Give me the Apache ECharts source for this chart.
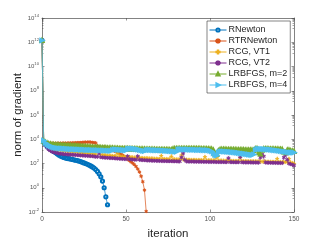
<!DOCTYPE html>
<html>
<head>
<meta charset="utf-8">
<script src="https://cdn.jsdelivr.net/npm/echarts@6/dist/echarts.min.js"></script>
<style>
html,body{margin:0;padding:0;background:#fff;}
#chart{width:327px;height:245px;}
</style>
</head>
<body>
<div id="chart"></div>
<script>
// Values are log10(norm of gradient), indexed by iteration 0,1,2,...
var seriesNames = ['RNewton', 'RTRNewton', 'RCG, VT1', 'RCG, VT2', 'LRBFGS, m=2', 'LRBFGS, m=4'];
var xTicks = [0, 50, 100, 150];
var yTickExps = [-2, 0, 2, 4, 6, 8, 10, 12, 14];

var rnewtonExp = [12.15,
  3.75, 3.6, 3.45, 3.3, 3.2, 3.1, 3.0, 2.9, 2.8, 2.7,
  2.62, 2.56, 2.5, 2.46, 2.42, 2.4, 2.37, 2.34, 2.3, 2.27,
  2.24, 2.2, 2.16, 2.1, 2.05, 2.0, 1.94, 1.87, 1.8, 1.72,
  1.62, 1.5, 1.35, 1.15, 0.9, 0.55, 0.0, -0.75, -1.4];

var rtrnewtonExp = [12.15,
  3.8, 3.72, 3.7, 3.68, 3.67, 3.67, 3.66, 3.66, 3.66, 3.67,
  3.67, 3.67, 3.68, 3.68, 3.68, 3.69, 3.69, 3.7, 3.7, 3.71,
  3.72, 3.72, 3.73, 3.74, 3.75, 3.76, 3.76, 3.77, 3.76, 3.74,
  3.72, 3.7, 3.45, 3.3, 3.28, 3.3, 3.38, 3.25, 3.2, 3.15,
  3.1, 3.07, 3.03, 3.0, 2.93, 2.85, 2.77, 2.68, 2.57, 2.46,
  2.35, 2.24, 2.13, 2.03, 1.9, 1.75, 1.55, 1.3, 0.95, 0.5,
  -0.2, -1.95];

var rcgVT1Exp = [12.15,
  3.82, 3.62, 3.48, 3.38, 3.3, 3.24, 3.19, 3.15, 3.12, 3.09,
  3.07, 3.05, 3.03, 3.01, 3.0, 2.98, 2.97, 2.95, 2.94, 2.92,
  2.91, 2.9, 2.88, 2.87, 2.86, 2.85, 2.84, 2.82, 2.81, 2.8,
  2.78, 2.77, 3.05, 2.9, 2.74, 2.72, 2.7, 2.69, 2.67, 2.66,
  2.65, 2.63, 2.62, 2.61, 2.85, 2.6, 2.58, 2.57, 2.56, 2.55,
  2.54, 2.53, 2.52, 2.51, 2.5, 2.49, 2.48, 2.47, 2.46, 2.45,
  2.44, 2.44, 2.43, 2.42, 2.42, 2.41, 2.4, 2.4, 2.39, 2.39,
  2.65, 2.38, 2.37, 2.37, 2.36, 2.36, 2.6, 2.35, 2.35, 2.34,
  2.34, 2.33, 2.7, 2.33, 2.32, 2.32, 2.31, 2.31, 2.3, 2.3,
  2.3, 2.29, 2.29, 2.28, 2.28, 2.28, 2.55, 2.27, 2.27, 2.26,
  2.26, 2.26, 2.25, 2.5, 2.25, 2.24, 2.24, 2.24, 2.23, 2.23,
  2.23, 2.22, 2.22, 2.22, 2.21, 2.21, 2.21, 2.5, 2.2, 2.2,
  2.2, 2.19, 2.19, 2.19, 2.18, 2.18, 2.18, 2.17, 2.17, 2.17,
  2.16, 2.16, 2.16, 2.15, 2.15, 2.15, 2.14, 2.14, 2.14, 2.4,
  2.13, 2.13, 2.12, 2.12, 2.12, 2.11, 2.4, 2.1, 2.05, 2.0];

var rcgVT2Exp = [12.15,
  3.8, 3.5, 3.3, 3.15, 3.05, 2.98, 2.93, 2.89, 2.86, 2.83,
  2.81, 2.79, 2.77, 2.76, 2.75, 2.74, 2.73, 2.72, 2.71, 2.7,
  2.69, 2.68, 2.67, 2.66, 2.65, 2.64, 2.63, 2.62, 2.61, 2.6,
  2.58, 2.56, 2.55, 2.85, 2.52, 2.5, 2.49, 2.48, 2.47, 2.46,
  2.45, 2.44, 2.43, 2.42, 2.41, 2.4, 2.39, 2.38, 2.37, 2.36,
  2.6, 2.35, 2.34, 2.33, 2.32, 2.31, 2.6, 2.3, 2.29, 2.28,
  2.27, 2.26, 2.25, 2.25, 2.24, 2.23, 2.23, 2.22, 2.22, 2.21,
  2.21, 2.2, 2.2, 2.2, 2.19, 2.19, 2.19, 2.18, 2.18, 2.18,
  2.17, 2.17, 2.5, 2.85, 2.3, 2.17, 2.16, 2.16, 2.16, 2.16,
  2.15, 2.15, 2.15, 2.15, 2.14, 2.14, 2.14, 2.14, 2.13, 2.13,
  2.13, 2.13, 2.13, 2.12, 2.12, 2.12, 2.12, 2.12, 2.11, 2.11,
  2.45, 2.11, 2.11, 2.1, 2.1, 2.1, 2.1, 2.55, 2.1, 2.09,
  2.09, 2.09, 2.09, 2.09, 2.08, 2.08, 2.08, 2.08, 2.07, 2.5,
  2.75, 2.6, 2.08, 2.07, 2.07, 2.06, 2.06, 2.06, 2.05, 2.05,
  2.05, 2.04, 2.04, 2.5, 2.75, 2.3, 2.0, 1.95, 1.9, 1.85];

var lrbfgs2Exp = [12.15,
  3.85, 3.75, 3.68, 3.63, 3.6, 3.57, 3.55, 3.54, 3.53, 3.52,
  3.51, 3.5, 3.5, 3.49, 3.48, 3.48, 3.47, 3.46, 3.45, 3.45,
  3.44, 3.43, 3.42, 3.41, 3.4, 3.39, 3.38, 3.37, 3.36, 3.35,
  3.34, 3.33, 3.33, 3.32, 3.31, 3.3, 3.3, 3.29, 3.28, 3.28,
  3.27, 3.27, 3.26, 3.25, 3.25, 3.24, 3.24, 3.23, 3.23, 3.22,
  3.22, 3.21, 3.21, 3.2, 3.2, 3.2, 3.19, 3.19, 3.18, 3.18,
  3.18, 3.17, 3.17, 3.17, 3.16, 3.16, 3.16, 3.15, 3.15, 3.15,
  3.15, 3.14, 3.14, 3.14, 3.14, 3.13, 3.13, 3.2, 3.22, 3.22,
  3.22, 3.23, 3.23, 3.23, 3.24, 3.24, 3.24, 3.24, 3.23, 3.23,
  3.23, 3.22, 3.22, 3.22, 3.21, 3.21, 3.21, 3.2, 3.2, 3.19,
  3.18, 3.1, 2.8, 2.75, 3.05, 3.15, 3.16, 3.16, 3.16, 3.15,
  3.15, 3.15, 3.14, 3.14, 3.14, 3.13, 3.13, 3.12, 3.12, 3.12,
  3.11, 3.11, 3.1, 3.1, 3.1, 3.09, 3.2, 3.22, 2.9, 2.8,
  3.1, 3.2, 3.2, 3.2, 3.19, 3.19, 3.19, 3.18, 3.18, 3.18,
  3.17, 3.17, 3.16, 2.95, 2.9, 3.1, 3.1, 3.05, 3.02, 3.0];

var lrbfgs4Exp = [12.15,
  3.9, 3.7, 3.58, 3.48, 3.41, 3.36, 3.32, 3.29, 3.27, 3.25,
  3.24, 3.23, 3.22, 3.21, 3.2, 3.19, 3.18, 3.18, 3.17, 3.16,
  3.16, 3.15, 3.14, 3.14, 3.13, 3.12, 3.12, 3.11, 3.11, 3.1,
  3.1, 3.09, 3.09, 3.08, 3.08, 3.07, 3.07, 3.06, 3.06, 3.05,
  3.05, 3.12, 3.15, 3.15, 3.14, 3.13, 3.12, 3.11, 3.1, 3.09,
  3.2, 3.22, 3.22, 3.21, 3.2, 3.18, 3.16, 3.12, 3.08, 3.05,
  3.02, 3.1, 3.12, 3.12, 3.11, 3.1, 3.1, 3.09, 3.08, 3.08,
  3.07, 3.06, 3.05, 3.04, 3.03, 3.02, 3.01, 3.0, 2.98, 2.96,
  3.15, 3.17, 3.17, 3.16, 3.16, 3.15, 3.15, 3.14, 3.14, 3.13,
  3.13, 3.12, 3.12, 3.11, 3.11, 3.1, 3.1, 3.09, 3.08, 3.05,
  3.0, 2.85, 2.7, 2.65, 2.9, 3.0, 3.0, 2.99, 2.98, 2.97,
  2.96, 2.95, 2.93, 2.92, 2.9, 2.88, 2.86, 2.84, 2.82, 2.8,
  2.78, 2.76, 2.74, 2.72, 2.7, 2.75, 3.1, 3.2, 3.2, 3.2,
  3.19, 3.18, 3.17, 3.16, 3.15, 3.14, 3.12, 3.1, 3.08, 3.06,
  3.04, 3.02, 3.0, 2.98, 2.96, 2.94, 2.92, 2.9, 2.9, 2.9];

var seriesExps = [rnewtonExp, rtrnewtonExp, rcgVT1Exp, rcgVT2Exp, lrbfgs2Exp, lrbfgs4Exp];
var colors = ['#0072BD', '#D95319', '#EDB120', '#7E2F8E', '#77AC30', '#4DBEEE'];

var plusPath = 'path://M4.3,0H5.7V4.3H10V5.7H5.7V10H4.3V5.7H0V4.3H4.3Z';
var starPath = 'path://M4.4,0H5.6V3.9L9,1.9L9.6,3L6.2,5L9.6,7L9,8.1L5.6,6.1V10H4.4V6.1L1,8.1L0.4,7L3.8,5L0.4,3L1,1.9L4.4,3.9Z';
var symbols = ['emptyCircle', starPath, plusPath, starPath, 'emptyTriangle', 'emptyTriangle'];
var symbolSizes = [3.2, 3, 3.5, 3.5, 3.2, 3.2];
var symbolRotates = [0, 0, 0, 0, 0, -90];

var axisColor = '#4d4d4d';
var labelColor = '#555';

function toData(arr) {
  return arr.map(function (e, i) { return [i, Math.pow(10, e)]; });
}

var series = seriesNames.map(function (name, k) {
  return {
    name: name,
    type: 'line',
    data: toData(seriesExps[k]),
    xAxisIndex: 0,
    yAxisIndex: 0,
    symbol: symbols[k],
    symbolSize: symbolSizes[k],
    symbolRotate: symbolRotates[k],
    showAllSymbol: true,
    animation: false,
    lineStyle: { color: colors[k], width: 0.7 },
    itemStyle: { color: colors[k], borderColor: colors[k], borderWidth: 0.6 },
    emphasis: { disabled: true }
  };
});

var chart = echarts.init(document.getElementById('chart'), null, { renderer: 'canvas' });

var yLabelFormatter = function (v) {
  var e = Math.round(Math.log10(v));
  return '{b|10}{s|' + e + '}';
};

chart.setOption({
  animation: false,
  backgroundColor: '#fff',
  color: colors,
  grid: { left: 42, top: 18, right: 33, bottom: 28, containLabel: false },
  legend: {
    orient: 'vertical',
    left: 207,
    top: 21,
    data: seriesNames,
    itemWidth: 17,
    itemHeight: 4,
    itemGap: 1,
    padding: [4, 3, 3, 2],
    backgroundColor: '#fff',
    borderColor: '#333',
    borderWidth: 0.6,
    borderRadius: 0,
    lineStyle: { width: 1 },
    textStyle: { fontFamily: 'Liberation Sans, Arial, sans-serif', fontSize: 9, lineHeight: 10, color: '#262626', padding: [0, 0, 0, -3] },
    selectedMode: false
  },
  xAxis: [{
    type: 'value',
    min: 0, max: 150, interval: 50,
    position: 'bottom',
    name: 'iteration',
    nameLocation: 'middle',
    nameGap: 16,
    nameMoveOverlap: false,
    nameTextStyle: { fontFamily: 'Liberation Sans, Arial, sans-serif', fontSize: 11.5, color: '#262626' },
    axisLine: { show: true, lineStyle: { color: axisColor, width: 0.7 } },
    axisTick: { show: true, inside: true, length: 2.5, lineStyle: { color: axisColor, width: 0.6 } },
    axisLabel: { fontFamily: 'Liberation Sans, Arial, sans-serif', fontSize: 6.5, color: labelColor, margin: 4,
      formatter: function (v) { return xTicks.indexOf(v) >= 0 ? String(v) : ''; } },
    splitLine: { show: false }
  }, {
    type: 'value',
    min: 0, max: 150, interval: 50,
    position: 'top',
    axisLine: { show: true, onZero: false, lineStyle: { color: axisColor, width: 0.7 } },
    axisTick: { show: true, inside: true, length: 2.5, lineStyle: { color: axisColor, width: 0.6 } },
    axisLabel: { show: false },
    splitLine: { show: false }
  }],
  yAxis: [{
    type: 'log',
    logBase: 10,
    min: Math.pow(10, yTickExps[0]),
    max: Math.pow(10, yTickExps[yTickExps.length - 1]),
    interval: 2,
    splitNumber: 8,
    position: 'left',
    name: 'norm of gradient',
    nameLocation: 'middle',
    nameGap: 18,
    nameMoveOverlap: false,
    nameRotate: 90,
    nameTextStyle: { fontFamily: 'Liberation Sans, Arial, sans-serif', fontSize: 11.5, color: '#262626' },
    axisLine: { show: true, onZero: false, lineStyle: { color: axisColor, width: 0.7 } },
    axisTick: { show: true, inside: true, length: 2.5, lineStyle: { color: axisColor, width: 0.6 } },
    minorTick: { show: true, splitNumber: 8, length: 1.5, lineStyle: { color: axisColor, width: 0.5 } },
    axisLabel: {
      formatter: yLabelFormatter,
      margin: 3,
      rich: {
        b: { fontFamily: 'Liberation Sans, Arial, sans-serif', fontSize: 6, color: labelColor },
        s: { fontFamily: 'Liberation Sans, Arial, sans-serif', fontSize: 4.2, color: labelColor, padding: [0, 0, 5, 0] }
      }
    },
    splitLine: { show: false },
    minorSplitLine: { show: false }
  }, {
    type: 'log',
    logBase: 10,
    min: Math.pow(10, yTickExps[0]),
    max: Math.pow(10, yTickExps[yTickExps.length - 1]),
    interval: 2,
    splitNumber: 8,
    position: 'right',
    axisLine: { show: true, onZero: false, lineStyle: { color: axisColor, width: 0.7 } },
    axisTick: { show: true, inside: true, length: 2.5, lineStyle: { color: axisColor, width: 0.6 } },
    minorTick: { show: true, splitNumber: 8, length: 1.5, lineStyle: { color: axisColor, width: 0.5 } },
    axisLabel: { show: false },
    splitLine: { show: false }
  }],
  series: series
});
</script>
</body>
</html>
